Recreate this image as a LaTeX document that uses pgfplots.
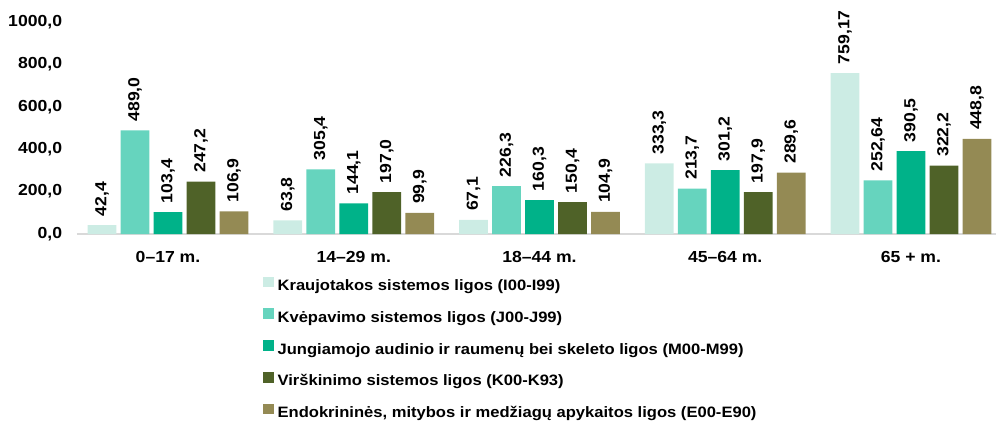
\documentclass[border=0pt]{standalone}
\usepackage{pgfplots}
\pgfplotsset{compat=1.18}
\usepackage{pgfplotstable}
\usepackage{fontspec}
\setmainfont{Liberation Sans}[FakeStretch=1.1]
\newfontfamily\labfont{Liberation Sans}[FakeStretch=1.1]

\definecolor{cA}{RGB}{204,236,228}
\definecolor{cB}{RGB}{102,212,190}
\definecolor{cC}{RGB}{0,178,137}
\definecolor{cD}{RGB}{79,98,40}
\definecolor{cE}{RGB}{148,138,84}
\definecolor{axgray}{RGB}{217,217,217}

\pgfplotstableread{
x y lab
0 42.4 42,4
1 63.8 63,8
2 67.1 67,1
3 333.3 333,3
4 759.17 759,17
}\dataA
\pgfplotstableread{
x y lab
0 489.0 489,0
1 305.4 305,4
2 226.3 226,3
3 213.7 213,7
4 252.64 252,64
}\dataB
\pgfplotstableread{
x y lab
0 103.4 103,4
1 144.1 144,1
2 160.3 160,3
3 301.2 301,2
4 390.5 390,5
}\dataC
\pgfplotstableread{
x y lab
0 247.2 247,2
1 197.0 197,0
2 150.4 150,4
3 197.9 197,9
4 322.2 322,2
}\dataD
\pgfplotstableread{
x y lab
0 106.9 106,9
1 99.9 99,9
2 104.9 104,9
3 289.6 289,6
4 448.8 448,8
}\dataE

\begin{document}
\begin{tikzpicture}[font=\bfseries]
\useasboundingbox (-57.75pt,-140.25pt) rectangle (689.25pt,175.5pt);
\begin{axis}[
  at={(0pt,0pt)}, anchor=south west,
  scale only axis, width=689.25pt, height=159pt,
  xmin=-0.49, xmax=4.458, ymin=0, ymax=1000,
  clip=false,
  ybar=3.25pt, bar width=21.5pt,
  axis x line*=bottom, axis y line*=left,
  x axis line style={-, draw=axgray, line width=1.2pt},
  y axis line style={draw=none},
  major tick length=0pt,
  ytick={0,200,400,600,800,1000},
  xtick={0,1,2,3,4},
  xticklabels={0–17 m., 14–29 m., 18–44 m., 45–64 m., 65 + m.},
  yticklabel style={font=\bfseries\fontsize{12}{14}\selectfont, anchor=east, inner sep=0pt, xshift=-11pt},
  xticklabel style={font=\bfseries\fontsize{12}{14}\selectfont, anchor=north, inner sep=0pt, yshift=-13pt},
  /pgf/number format/.cd, fixed, fixed zerofill, precision=1, use comma, 1000 sep={}, assume math mode=true,
  /pgfplots/.cd,
  point meta=explicit symbolic,
  nodes near coords={\labfont\bfseries\fontsize{12}{14}\selectfont\pgfplotspointmeta},
  every node near coord/.append style={rotate=90, anchor=west, inner xsep=6.5pt, inner ysep=0pt, text=black, scale=1},
  legend image code/.code={\fill[#1,draw=none] (0pt,-0.5pt) rectangle (8.25pt,7.5pt);},
  legend cell align=left,
  legend style={at={(0.2024,-0.20)}, anchor=north west, draw=none, fill=none, inner sep=0pt,
    font=\bfseries\fontsize{11.3}{13}\selectfont,
    nodes={inner sep=0pt, text height=8.3pt, text depth=2.5pt},
    row sep=10.9pt,
    /tikz/every odd column/.append style={column sep=2.5pt}},
]
\addplot[fill=cA, draw=none] table[x=x, y=y, meta=lab] {\dataA};
\addlegendentry{Kraujotakos sistemos ligos (I00-I99)}
\addplot[fill=cB, draw=none] table[x=x, y=y, meta=lab] {\dataB};
\addlegendentry{Kvėpavimo sistemos ligos (J00-J99)}
\addplot[fill=cC, draw=none] table[x=x, y=y, meta=lab] {\dataC};
\addlegendentry{Jungiamojo audinio ir raumenų bei skeleto ligos (M00-M99)}
\addplot[fill=cD, draw=none] table[x=x, y=y, meta=lab] {\dataD};
\addlegendentry{Virškinimo sistemos ligos (K00-K93)}
\addplot[fill=cE, draw=none] table[x=x, y=y, meta=lab] {\dataE};
\addlegendentry{Endokrininės, mitybos ir medžiagų apykaitos ligos (E00-E90)}
\end{axis}
\end{tikzpicture}
\end{document}
